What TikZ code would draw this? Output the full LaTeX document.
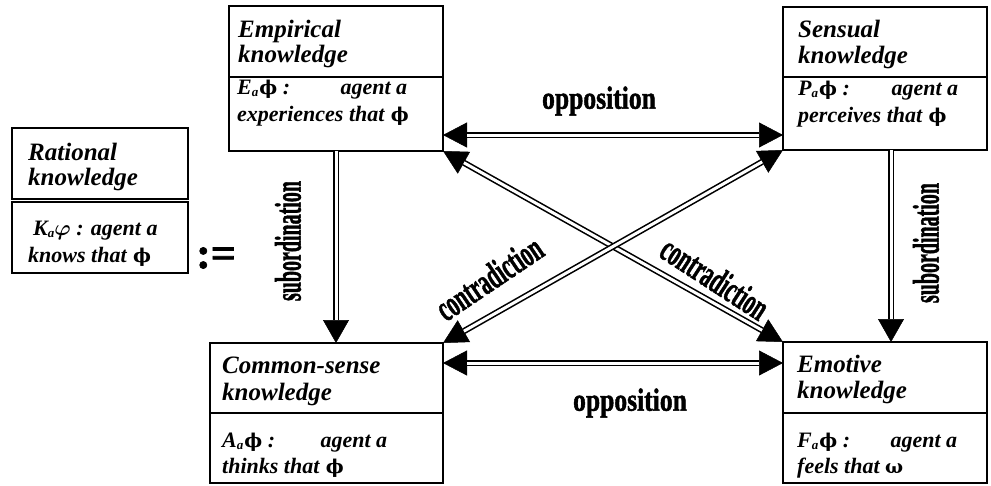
\documentclass[tikz,border=0pt]{standalone}
\usepackage{fix-cm}
\usepackage{fontspec}
\setmainfont{Liberation Serif}
\newfontfamily\lblfont{Liberation Serif}[BoldFeatures={FakeBold=1.6}]
\newfontfamily\grk{DejaVu Serif}
\usepackage{bm}
\usetikzlibrary{arrows.meta,calc}
\newcommand{\sbs}[1]{\raisebox{-0.25ex}{\fontsize{13}{13}\selectfont #1}}
\newcommand{\phib}{{\grk\bfseries\upshape\fontsize{19}{19}\selectfont\kern1pt ϕ}}
\tikzset{
  box/.style={draw, line width=1.3pt, inner sep=0pt, outer sep=0pt, anchor=north west},
  hd/.style={anchor=base west, inner sep=0pt, font=\fontsize{25}{25}\selectfont\bfseries\itshape},
  bd/.style={anchor=base west, inner sep=0pt, font=\fontsize{22}{22}\selectfont\bfseries\itshape},
  lbl/.style={inner sep=0pt, font=\lblfont\bfseries\fontsize{32}{32}\selectfont},
  lblb/.style={inner sep=0pt, font=\lblfont\bfseries\fontsize{37}{37}\selectfont},
  tipsboth/.style={line width=0.5pt, {Triangle[length=24pt,width=25pt]}-{Triangle[length=24pt,width=25pt]}},
  tipsend/.style={line width=0.5pt, -{Triangle[length=23pt,width=26pt]}},
  dbl/.style={double, double distance=3pt, line width=1.6pt},
}
\begin{document}
\begin{tikzpicture}[x=1pt,y=-1pt]
\useasboundingbox (0,0) rectangle (991,485);
% boxes
\node[box, minimum width=214pt, minimum height=71pt] (emp1) at (229,6) {};
\node[box, minimum width=214pt, minimum height=74pt] (emp2) at (229,77) {};
\node[box, minimum width=204pt, minimum height=70pt] (sen1) at (783,7) {};
\node[box, minimum width=204pt, minimum height=73pt] (sen2) at (783,77) {};
\node[box, minimum width=233pt, minimum height=70pt] (com1) at (210,343) {};
\node[box, minimum width=233pt, minimum height=70pt] (com2) at (210,413) {};
\node[box, minimum width=204pt, minimum height=71pt] (emo1) at (783,342) {};
\node[box, minimum width=204pt, minimum height=70pt] (emo2) at (783,413) {};
\node[box, minimum width=176pt, minimum height=71pt] (rat1) at (12,128) {};
\node[box, minimum width=176pt, minimum height=71pt] (rat2) at (12,202) {};
% texts
\node[hd] (empa) at (238,37) {Empirical};
\node[hd] (empb) at (238,62) {knowledge};
\node[bd] (empc) at (237,94) {\hbox to 170pt{E\sbs{a}\phib\ :\hfill agent a}};
\node[bd] (empd) at (237,121) {experiences that \phib};
\node[hd] (sena) at (798,37) {Sensual};
\node[hd] (senb) at (798,63) {knowledge};
\node[bd] (senc) at (798,95) {\hbox to 160pt{P\sbs{a}\phib\ :\hfill agent a}};
\node[bd] (send) at (798,122) {perceives that \phib};
\node[hd] (coma) at (222,373) {Common-sense};
\node[hd] (comb) at (222,400) {knowledge};
\node[bd] (comc) at (222,447) {\hbox to 165pt{A\sbs{a}\phib\ :\hfill agent a}};
\node[bd] (comd) at (222,473) {thinks that \phib};
\node[hd] (emoa) at (797,372) {Emotive};
\node[hd] (emob) at (797,398) {knowledge};
\node[bd] (emoc) at (797,447) {\hbox to 160pt{F\sbs{a}\phib\ :\hfill agent a}};
\node[bd] (emod) at (797,473) {feels that {\grk\bfseries\upshape\fontsize{19}{19}\selectfont ω}};
\node[hd] (rata) at (28,160) {Rational};
\node[hd] (ratb) at (28,185) {knowledge};
\node[bd] (ratc) at (33,235) {K\sbs{a}$\bm{\varphi}$ : agent a};
\node[bd] (ratd) at (28,262) {knows that \phib};
\node[inner sep=0pt, font=\lblfont\bfseries\fontsize{44}{44}\selectfont] (defeq) at (216,258) {:=};
% labels
\node[lbl] (opp1) at (599,101) {\scalebox{0.8}[1]{opposition}};
\node[lbl] (opp2) at (630,403) {\scalebox{0.8}[1]{opposition}};
\node[lblb, rotate=90] (sub1) at (288,241) {\scalebox{0.54}[1]{subordination}};
\node[lblb, rotate=90] (sub2) at (926,243) {\scalebox{0.54}[1]{subordination}};
\node[lblb, rotate=34] (con1) at (489,278) {\scalebox{0.57}[1]{contradiction}};
\node[lblb, rotate=-33] (con2) at (715,278) {\scalebox{0.57}[1]{contradiction}};
% connectors: opposition
\draw[tipsboth] ([yshift=-21pt]emp2.east) -- ([yshift=-21pt]emp2.east -| sen2.west);
\draw[dbl, shorten <=24pt, shorten >=24pt] ([yshift=-21pt]emp2.east) -- ([yshift=-21pt]emp2.east -| sen2.west);
\draw[tipsboth] ([yshift=15pt]com1.east) -- ([yshift=15pt]com1.east -| emo1.west);
\draw[dbl, shorten <=24pt, shorten >=24pt] ([yshift=15pt]com1.east) -- ([yshift=15pt]com1.east -| emo1.west);
% contradiction
\draw[tipsboth] (emp2.south east) -- (emo1.north west);
\draw[dbl, shorten <=24pt, shorten >=24pt] (emp2.south east) -- (emo1.north west);
\draw[tipsboth] (sen2.south west) -- (com1.north east);
\draw[dbl, shorten <=24pt, shorten >=24pt] (sen2.south west) -- (com1.north east);
% subordination
\draw[tipsend] (emp2.south) -- (emp2.south |- com1.north);
\draw[dbl, shorten >=23pt] (emp2.south) -- (emp2.south |- com1.north);
\draw[tipsend] ([xshift=6pt]sen2.south) -- ([xshift=6pt]sen2.south |- emo1.north);
\draw[dbl, shorten >=23pt] ([xshift=6pt]sen2.south) -- ([xshift=6pt]sen2.south |- emo1.north);
\end{tikzpicture}
\end{document}
